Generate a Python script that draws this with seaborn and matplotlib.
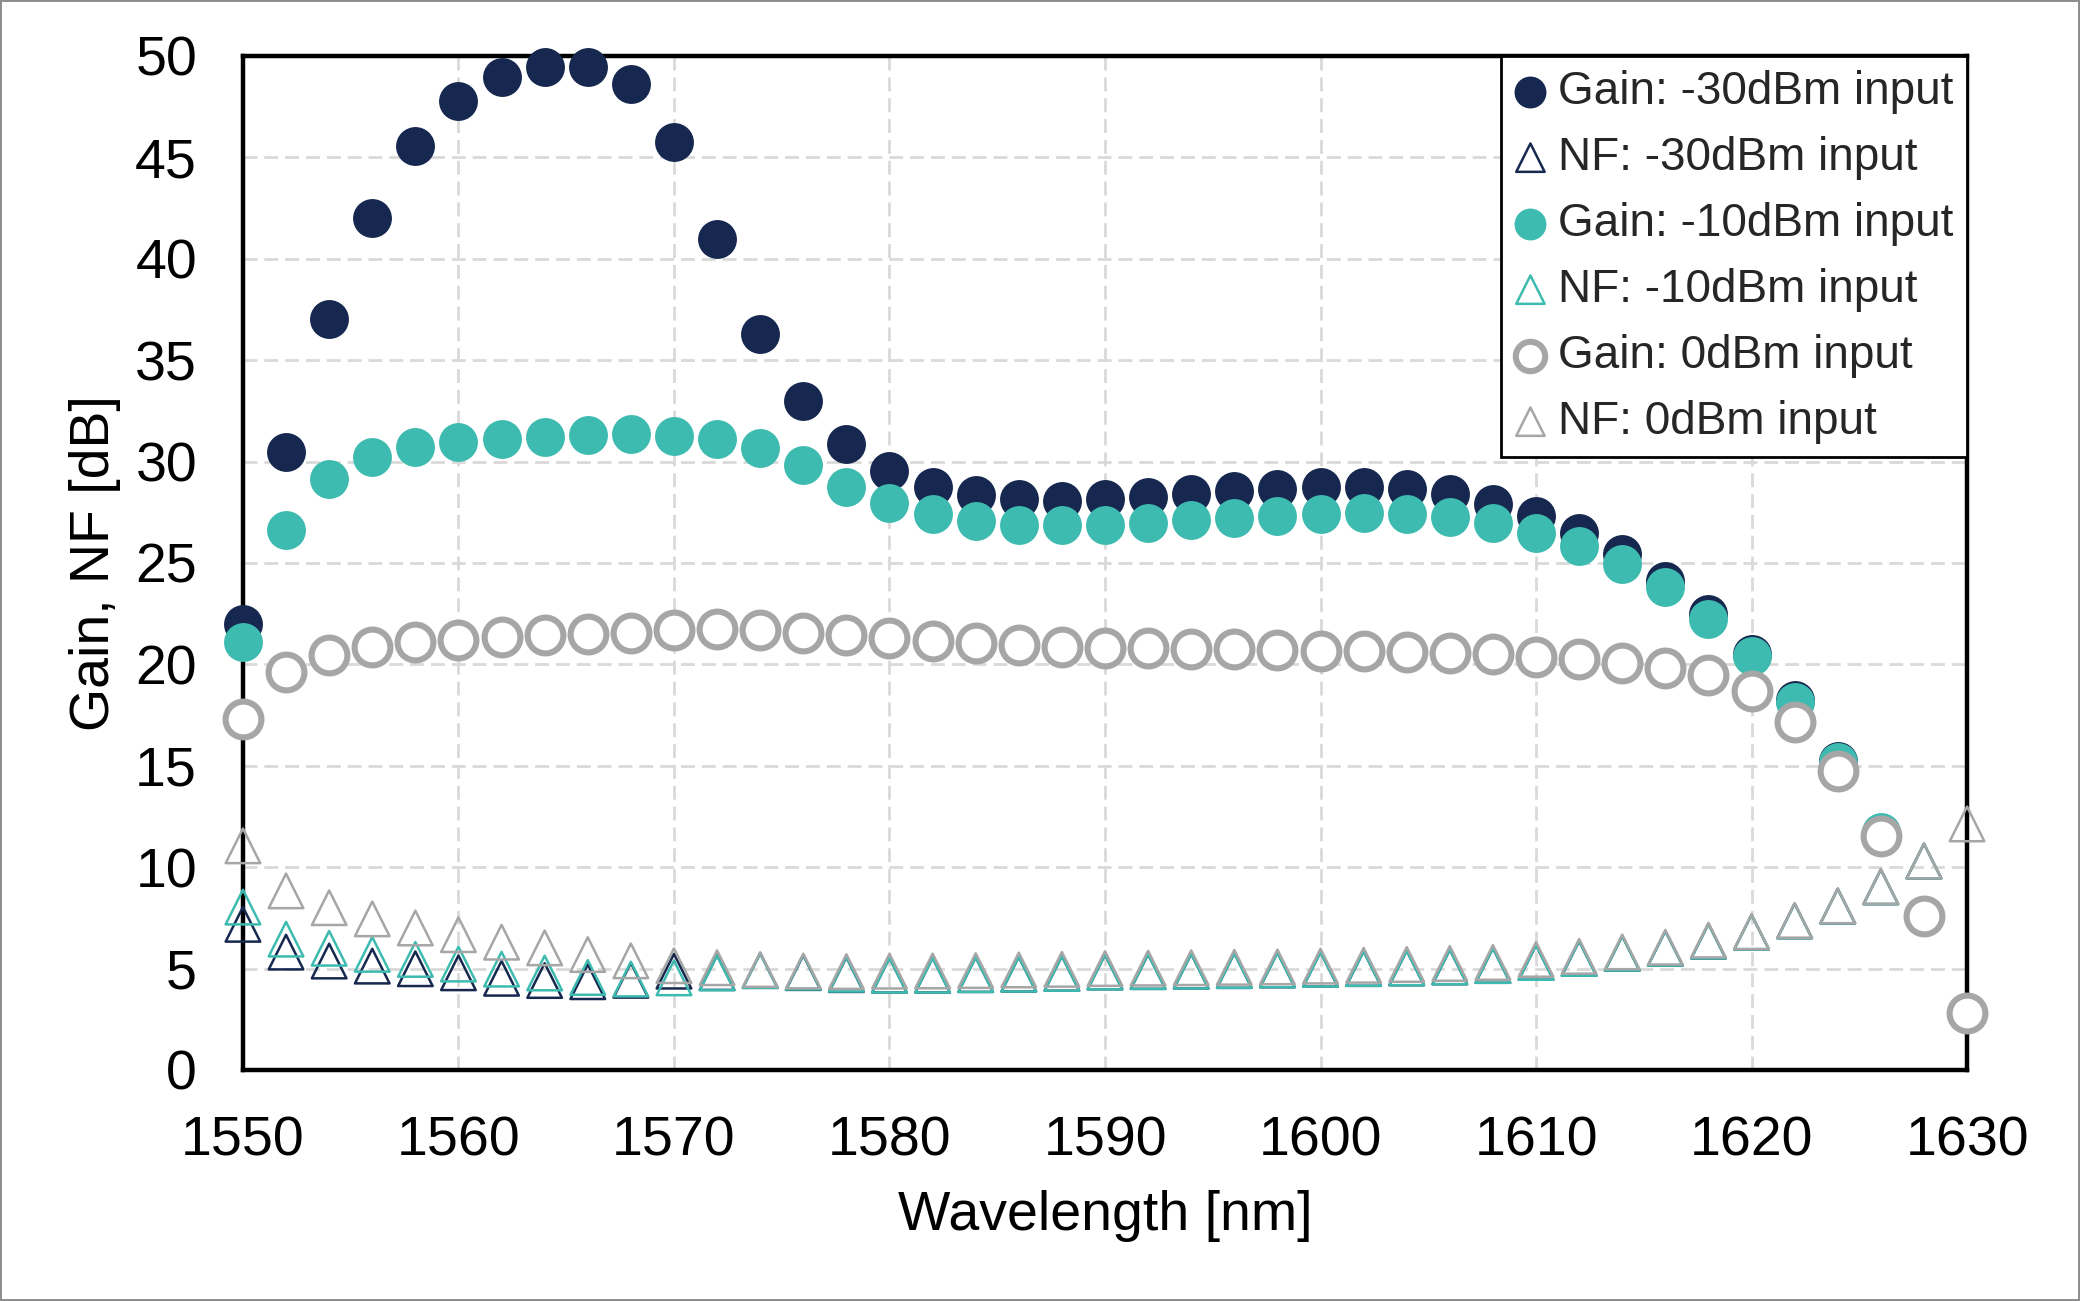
import matplotlib
matplotlib.use("Agg")
import matplotlib.pyplot as plt
from matplotlib.patches import Rectangle
import pandas as pd
import seaborn as sns

# wavelength grid [nm]
wavelength = [1550, 1552, 1554, 1556, 1558, 1560, 1562, 1564, 1566, 1568,
              1570, 1572, 1574, 1576, 1578, 1580, 1582, 1584, 1586, 1588,
              1590, 1592, 1594, 1596, 1598, 1600, 1602, 1604, 1606, 1608,
              1610, 1612, 1614, 1616, 1618, 1620, 1622, 1624, 1626, 1628,
              1630]

# gain [dB]
gain_m30 = [22.0, 30.46, 37.05, 42.03, 45.58, 47.8, 48.98, 49.44, 49.44, 48.6,
            45.78, 40.96, 36.28, 32.99, 30.85, 29.55, 28.76, 28.34, 28.14, 28.07,
            28.14, 28.24, 28.4, 28.57, 28.63, 28.73, 28.76, 28.63, 28.38, 27.9,
            27.3, 26.5, 25.43, 24.09, 22.46, 20.49, 18.25, 15.25, 11.7]
gain_m10 = [21.1, 26.6, 29.12, 30.21, 30.7, 30.95, 31.1, 31.23, 31.3, 31.35,
            31.28, 31.1, 30.65, 29.82, 28.76, 27.94, 27.4, 27.05, 26.86, 26.86,
            26.86, 26.96, 27.1, 27.22, 27.32, 27.42, 27.45, 27.4, 27.28, 26.96,
            26.46, 25.85, 24.97, 23.8, 22.26, 20.39, 18.15, 15.2, 11.74]
gain_0 = [17.3, 19.6, 20.45, 20.85, 21.1, 21.2, 21.35, 21.45, 21.5, 21.55,
          21.7, 21.75, 21.7, 21.55, 21.45, 21.29, 21.17, 21.04, 20.94, 20.87,
          20.83, 20.79, 20.78, 20.75, 20.71, 20.68, 20.65, 20.6, 20.55, 20.5,
          20.38, 20.24, 20.07, 19.84, 19.47, 18.7, 17.14, 14.72, 11.56, 7.58,
          2.81]

# noise figure [dB]
nf_m30 = [7.18, 5.81, 5.37, 5.12, 4.99, 4.79, 4.52, 4.41, 4.35, 4.42,
          4.87, 4.8, 4.9, 4.8, 4.7, 4.67, 4.67, 4.7, 4.72, 4.76,
          4.83, 4.85, 4.87, 4.9, 4.93, 4.96, 5.0, 5.03, 5.08, 5.15,
          5.3, 5.5, 5.75, 6.0, 6.35, 6.8, 7.35, 8.08, 9.03, 10.3]
nf_m10 = [8.03, 6.45, 6.0, 5.7, 5.45, 5.22, 4.97, 4.78, 4.56, 4.48,
          4.54, 4.78, 4.9, 4.82, 4.72, 4.67, 4.67, 4.7, 4.72, 4.76,
          4.83, 4.85, 4.87, 4.9, 4.93, 4.96, 5.0, 5.03, 5.08, 5.15,
          5.3, 5.5, 5.75, 6.0, 6.35, 6.8, 7.35, 8.08, 9.03, 10.3]
nf_0 = [11.05, 8.83, 8.0, 7.45, 7.0, 6.67, 6.3, 6.02, 5.69, 5.38,
        5.14, 5.04, 4.95, 4.88, 4.85, 4.87, 4.88, 4.9, 4.93, 4.96,
        5.0, 5.02, 5.04, 5.06, 5.08, 5.12, 5.16, 5.2, 5.25, 5.3,
        5.45, 5.6, 5.82, 6.05, 6.4, 6.82, 7.37, 8.09, 9.04, 10.3,
        12.13]

navy = "#16284F"
teal = "#3EBBB0"
gray = "#A6A6A6"

sns.set_theme(style="white")
plt.rcParams["font.family"] = ["Liberation Sans", "DejaVu Sans"]

fig = plt.figure(figsize=(10.4, 6.505), dpi=200)
ax = fig.add_axes([0.1168, 0.1776, 0.8289, 0.7794])

series = [
    ("Gain: -30dBm input", gain_m30,
     dict(marker="o", s=196, color=navy, edgecolor=navy, linewidth=0)),
    ("NF: -30dBm input", nf_m30,
     dict(marker="^", s=155, color=navy, facecolor="none", edgecolor=navy, linewidth=0.9)),
    ("Gain: -10dBm input", gain_m10,
     dict(marker="o", s=196, color=teal, edgecolor=teal, linewidth=0)),
    ("NF: -10dBm input", nf_m10,
     dict(marker="^", s=155, color=teal, facecolor="none", edgecolor=teal, linewidth=0.9)),
    ("Gain: 0dBm input", gain_0,
     dict(marker="o", s=166, color=gray, facecolor="white", edgecolor=gray, linewidth=2.2)),
    ("NF: 0dBm input", nf_0,
     dict(marker="^", s=155, color=gray, facecolor="none", edgecolor=gray, linewidth=0.9)),
]

for label, values, style in series:
    df = pd.DataFrame({"wavelength": wavelength[:len(values)], "value": values})
    sns.scatterplot(data=df, x="wavelength", y="value", ax=ax, label=label,
                    clip_on=False, zorder=3, **style)

ax.set_xlim(1550, 1630)
ax.set_ylim(0, 50)
ax.set_xticks(range(1550, 1631, 10))
ax.set_yticks(range(0, 51, 5))
ax.grid(True, color="#D9D9D9", linestyle=(0, (5, 2.5)), linewidth=1.0)
ax.set_axisbelow(True)
ax.tick_params(length=0, labelsize=20, pad=16.5, colors="black")
ax.set_xlabel("Wavelength [nm]", fontsize=20, color="black", labelpad=8)
ax.set_ylabel("Gain, NF [dB]", fontsize=20, color="black", labelpad=5)
for sp in ax.spines.values():
    sp.set_color("black")
    sp.set_linewidth(1.6)
    sp.set_zorder(2.5)

leg = ax.legend(loc="upper right", borderaxespad=0, frameon=True, fancybox=False,
                edgecolor="black", framealpha=1, fontsize=16.5, markerscale=0.82,
                handlelength=0.7, handletextpad=0.25, borderpad=0.3,
                labelspacing=0.48)
leg.get_frame().set_linewidth(1.0)
leg.set_zorder(5)

# thin grey frame around the whole picture
fig.add_artist(Rectangle((0, 0), 1, 1, transform=fig.transFigure, fill=False,
                         edgecolor="#8C8C8C", linewidth=1.4))

fig.savefig("out.png", dpi=200)
